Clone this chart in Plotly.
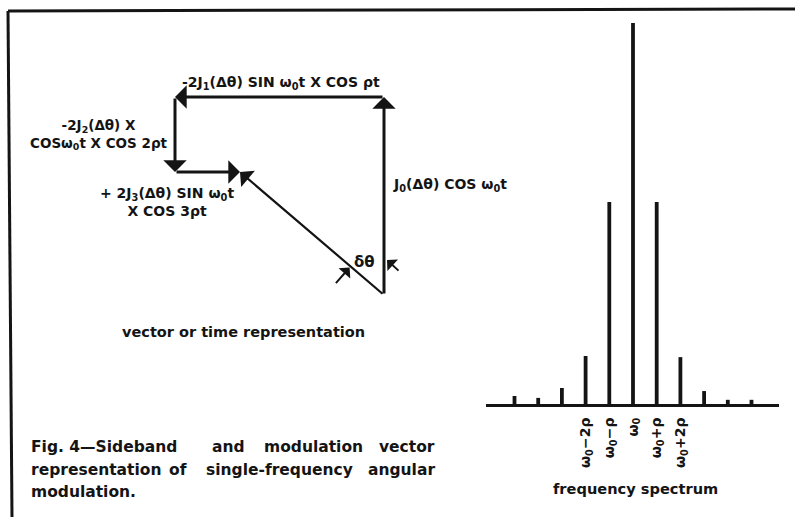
import math
import plotly.graph_objects as go

# ---------------- data ----------------
# vector (phasor) components, in drawing units
J0_TERM = 198      # J0(Δθ) COS ω0t  (up)
J1_TERM = -209     # -2J1(Δθ) SIN ω0t X COS ρt (left)
J2_TERM = -75      # -2J2(Δθ) X COS ω0t X COS 2ρt (down)
J3_TERM = 65       # +2J3(Δθ) SIN ω0t X COS 3ρt (right)

# spectrum: harmonic order and relative amplitude
orders = [-5, -4, -3, -2, -1, 0, 1, 2, 3, 4, 5]
amplitudes = [0.021, 0.016, 0.042, 0.126, 0.53, 1.0, 0.53, 0.123, 0.034, 0.011, 0.011]
tick_orders = [-2, -1, 0, 1, 2]
tick_labels = ["ω<sub>0</sub>−2ρ", "ω<sub>0</sub>−ρ", "ω<sub>0</sub>", "ω<sub>0</sub>+ρ", "ω<sub>0</sub>+2ρ"]

W, H = 795, 517
INK = "#141414"
FONT = "DejaVu Sans, sans-serif"

def P(px, py):
    return px / W, 1 - py / H

fig = go.Figure()

# ---------------- spectrum ----------------
fig.add_trace(go.Bar(x=orders, y=amplitudes, width=0.16, marker=dict(color=INK, line=dict(width=0)),
                     xaxis="x2", yaxis="y2", hoverinfo="skip", showlegend=False))

# ---------------- vector diagram ----------------
pts = [(0, 0)]
for dx, dy in [(0, J0_TERM), (J1_TERM, 0), (0, J2_TERM), (J3_TERM, 0)]:
    x0, y0 = pts[-1]
    pts.append((x0 + dx, y0 + dy))
res = pts[-1]
fig.add_trace(go.Scatter(x=[p[0] for p in pts], y=[p[1] for p in pts], mode="markers",
                         marker=dict(size=1, color="rgba(0,0,0,0)"), hoverinfo="skip",
                         showlegend=False, xaxis="x", yaxis="y"))

annotations = []
for (x0, y0), (x1, y1) in zip(pts[:-1], pts[1:]):
    annotations.append(dict(x=x1, y=y1, ax=x0, ay=y0, xref="x", yref="y", axref="x", ayref="y",
                            showarrow=True, arrowhead=1, arrowsize=1.3, arrowwidth=3, arrowcolor=INK, text=""))
# resultant
annotations.append(dict(x=res[0], y=res[1], ax=0, ay=0, xref="x", yref="y", axref="x", ayref="y",
                        showarrow=True, arrowhead=1, arrowsize=1.6, arrowwidth=2.2, arrowcolor=INK, text=""))

# δθ angle indicators
L = math.hypot(*res)
ux, uy = res[0] / L, res[1] / L
t = 44
tip = (ux * t - uy * 1.5, uy * t + ux * 1.5)
tail = (tip[0] - 15, tip[1] - 17)
annotations.append(dict(x=tip[0], y=tip[1], ax=tail[0], ay=tail[1], xref="x", yref="y", axref="x", ayref="y",
                        showarrow=True, arrowhead=1, arrowsize=1.3, arrowwidth=2, arrowcolor=INK, text=""))
annotations.append(dict(x=3, y=35, ax=16, ay=23, xref="x", yref="y", axref="x", ayref="y",
                        showarrow=True, arrowhead=1, arrowsize=1.3, arrowwidth=2, arrowcolor=INK, text=""))

def txt(s, px, py, size=13, xanchor="center", align="center", yanchor="middle"):
    x, y = P(px, py)
    annotations.append(dict(text=s, x=x, y=y, xref="paper", yref="paper", showarrow=False,
                            xanchor=xanchor, yanchor=yanchor, align=align,
                            font=dict(family=FONT, size=size, color=INK, weight=700)))

txt("-2J<sub>1</sub>(Δθ) SIN ω<sub>0</sub>t X COS ρt", 281, 83, size=14)
txt("-2J<sub>2</sub>(Δθ) X<br>COSω<sub>0</sub>t X COS 2ρt", 99, 135, size=13.5)
txt("+ 2J<sub>3</sub>(Δθ) SIN ω<sub>0</sub>t<br>X COS 3ρt", 167, 202, size=14)
txt("J<sub>0</sub>(Δθ) COS ω<sub>0</sub>t", 391, 185, size=14, xanchor="left")
txt("δθ", 364, 262, size=15)
txt("vector or time representation", 243, 332, size=14.5)
txt("frequency spectrum", 635, 488, size=14.6)

# caption, justified word by word
cap_lines = [
    (447, [("Fig. 4—Sideband", 29, "left"), ("and", 228, "center"), ("modulation", 313, "center"), ("vector", 437, "right")]),
    (470, [("representation", 29, "left"), ("of", 178, "center"), ("single-frequency", 279, "center"), ("angular", 437, "right")]),
    (492, [("modulation.", 29, "left")]),
]
for py, words in cap_lines:
    for w, px, anc in words:
        txt(w, px, py, size=15.5, xanchor=anc)

shapes = [
    dict(type="line", xref="paper", yref="paper", x0=P(8, 11)[0], y0=P(8, 11)[1], x1=1, y1=P(795, 9)[1],
         line=dict(color=INK, width=3)),
    dict(type="line", xref="paper", yref="paper", x0=P(8, 11)[0], y0=P(8, 11)[1], x1=P(12, 517)[0], y1=0,
         line=dict(color=INK, width=3)),
]

x2_left, x2_right, x_center, spacing = 486, 779, 633, 23.7
base_y, top_y = 404, 23

fig.update_layout(
    width=W, height=H, margin=dict(l=0, r=0, t=0, b=0),
    paper_bgcolor="white", plot_bgcolor="rgba(0,0,0,0)",
    xaxis=dict(domain=[0, 1], range=[-384, W - 384], visible=False, fixedrange=True),
    yaxis=dict(domain=[0, 1], range=[295 - H, 295], visible=False, fixedrange=True),
    xaxis2=dict(domain=[x2_left / W, x2_right / W], anchor="y2",
                range=[(x2_left - x_center) / spacing, (x2_right - x_center) / spacing],
                showline=True, linewidth=3, linecolor=INK, showgrid=False, zeroline=False,
                ticks="", tickvals=tick_orders, ticktext=tick_labels, tickangle=-90,
                ticklabelstandoff=5,
                tickfont=dict(family=FONT, size=14, color=INK, weight=700), fixedrange=True),
    yaxis2=dict(domain=[(H - base_y) / H, (H - top_y) / H], anchor="x2", range=[0, 1],
                visible=False, fixedrange=True),
    annotations=annotations, shapes=shapes, showlegend=False,
)

fig.write_html("out.html", config={"displayModeBar": False},
               post_script="document.body.style.margin='0';document.body.style.overflow='hidden';")
